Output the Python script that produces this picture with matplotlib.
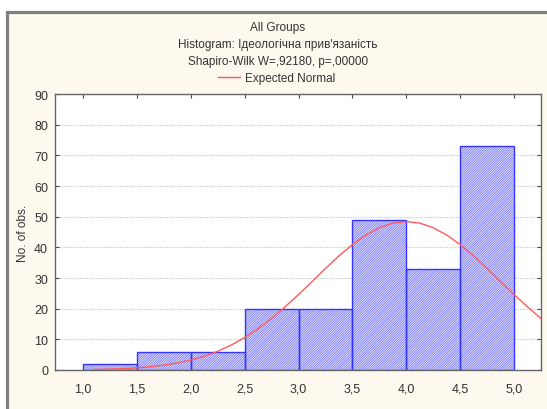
import matplotlib
matplotlib.use('Agg')
import matplotlib.pyplot as plt
from matplotlib.patches import Rectangle
from matplotlib.lines import Line2D

plt.rcParams['font.family'] = ['Liberation Sans', 'DejaVu Sans']
plt.rcParams['hatch.linewidth'] = 0.5

# histogram: left bin edges and counts
bin_left = [1.0, 1.5, 2.0, 2.5, 3.0, 3.5, 4.0, 4.5]
counts = [2, 6, 6, 20, 20, 49, 33, 73]
bin_width = 0.5

# expected normal curve
curve_x = [1.1, 1.25, 1.375, 1.5, 1.625, 1.75, 1.875, 2.0, 2.125, 2.25, 2.375, 2.5,
           2.625, 2.75, 2.875, 3.0, 3.125, 3.25, 3.375, 3.5, 3.625, 3.75, 3.875, 4.0,
           4.125, 4.25, 4.375, 4.5, 4.625, 4.75, 4.875, 5.0, 5.125, 5.25]
curve_y = [0.16, 0.29, 0.46, 0.71, 1.07, 1.58, 2.28, 3.24, 4.49, 6.1, 8.12, 10.6,
           13.5, 16.8, 20.6, 24.6, 28.8, 33.1, 37.2, 40.9, 44.0, 46.4, 47.9, 48.4,
           47.9, 46.4, 44.0, 40.9, 37.2, 33.1, 28.8, 24.6, 20.6, 16.8]

x_ticks = [1.0, 1.5, 2.0, 2.5, 3.0, 3.5, 4.0, 4.5, 5.0]
x_ticklabels = ['1,0', '1,5', '2,0', '2,5', '3,0', '3,5', '4,0', '4,5', '5,0']
y_ticks = [0, 10, 20, 30, 40, 50, 60, 70, 80, 90]

title_lines = ['All Groups',
               "Histogram: Ідеологічна прив'язаність",
               'Shapiro-Wilk W=,92180, p=,00000']

W, H = 547, 410
fig = plt.figure(figsize=(W / 100, H / 100), dpi=100, facecolor='white')

# cream panel with grey frame (cut off on right and bottom)
fig.patches.append(Rectangle((7 / W, -0.2), 2.0, 1.2 - 12.5 / H, transform=fig.transFigure,
                             facecolor='#fef9ee', edgecolor='#7f7f7f', linewidth=2.3,
                             zorder=-10))

ax = fig.add_axes([55 / W, 1 - 371 / H, (541 - 55) / W, (371 - 95) / H])
ax.set_facecolor('white')

# hatched fill, then the bar outlines
ax.bar(bin_left, counts, width=bin_width, align='edge', facecolor='#e2e2fd',
       edgecolor='#6b6bff', hatch='/' * 14, linewidth=0, zorder=2)
ax.bar(bin_left, counts, width=bin_width, align='edge', facecolor='none',
       edgecolor='#3434ff', linewidth=1.0, zorder=2.5)
ax.plot(curve_x, curve_y, color='#ff5a5a', linewidth=1.0, zorder=3)

ax.set_xlim(0.74, 5.25)
ax.set_ylim(0, 90)
ax.set_xticks(x_ticks)
ax.set_xticklabels(x_ticklabels)
ax.set_yticks(y_ticks)
ax.yaxis.grid(True, color='#c8c8c8', linestyle=(0, (1, 1)), linewidth=0.8, zorder=1)
ax.set_axisbelow(True)

ax.tick_params(axis='both', direction='in', length=3, colors='#444444', labelsize=9,
               labelcolor='#333333', top=True, right=True, bottom=False)
ax.tick_params(axis='x', pad=9)
ax.tick_params(axis='y', pad=5)
for sp in ax.spines.values():
    sp.set_color('#666666')
    sp.set_linewidth(1.0)

ax.set_xlabel('X <= Category Boundary', fontsize=8.5, color='#333333', labelpad=10)
ax.set_ylabel('No. of obs.', fontsize=8.5, color='#333333', labelpad=4)

# titles
for i, line in enumerate(title_lines):
    fig.text(278 / W, 1 - (28 + 17 * i) / H, line, ha='center', va='center',
             fontsize=8.5, color='#333333')

# legend
handle = Line2D([], [], color='#ff5a5a', linewidth=1.0)
fig.legend([handle], ['Expected Normal'], loc='center', bbox_to_anchor=(277 / W, 1 - 79 / H),
           frameon=False, fontsize=8.5, handlelength=1.8, handletextpad=0.5,
           labelcolor='#333333')

fig.savefig('out.png', dpi=100, facecolor=fig.get_facecolor())
